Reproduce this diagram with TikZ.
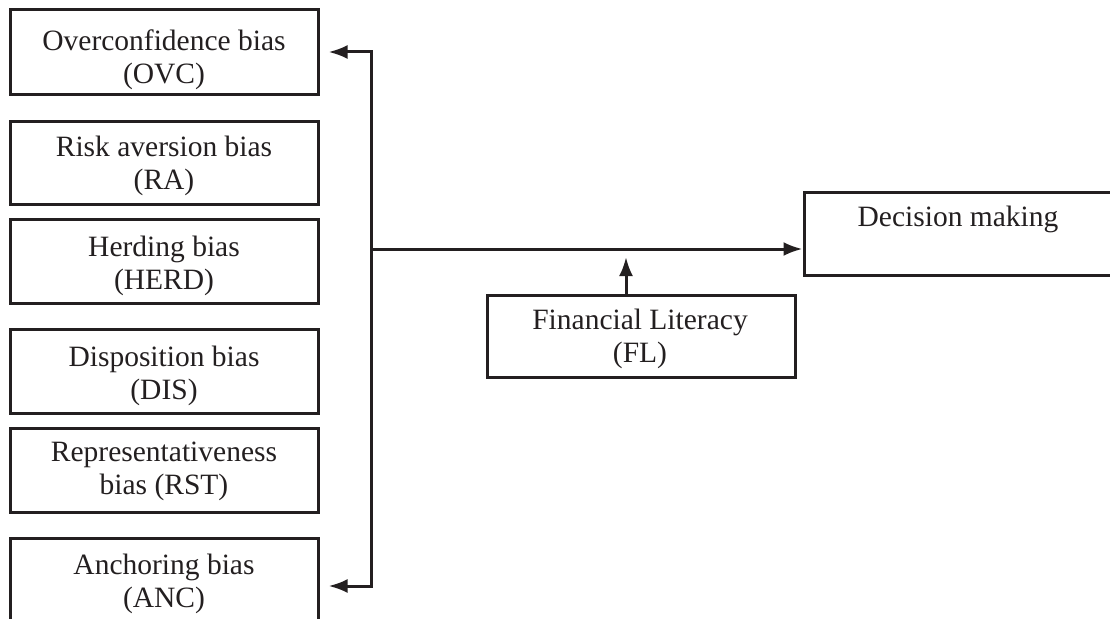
\documentclass[tikz,border=0pt]{standalone}
\usepackage{fontspec}
\setmainfont{Liberation Serif}
\usetikzlibrary{arrows.meta}
\definecolor{ink}{HTML}{231F20}
\begin{document}
\begin{tikzpicture}[x=1pt,y=-1pt,
  box/.style={draw=ink, line width=3pt, rectangle, inner sep=0pt, minimum width=308pt},
  lbl/.style={text=ink, align=center, inner sep=0pt, font=\fontsize{29.5}{33}\selectfont},
  conn/.style={draw=ink, line width=3pt},
  arr/.style={conn, -{Latex[length=19pt,width=14pt]}}]
\useasboundingbox (0,0) rectangle (1110,618);
\clip (0,0) rectangle (1110,618);
% left boxes
\node[box, minimum height=84pt] (ovc) at (164,52) {};
\node[box, minimum height=83pt] (ra) at (164,162.5) {};
\node[box, minimum height=84pt] (herd) at (164,261) {};
\node[box, minimum height=84pt] (dis) at (164,371) {};
\node[box, minimum height=84pt] (rst) at (164,470) {};
\node[box, minimum height=84pt] (anc) at (164,580) {};
\node[box, minimum height=82pt] (fl) at (641,336) {};
\node[box, minimum height=83pt, minimum width=316pt] (dm) at (962,233.5) {};
% labels
\node[lbl] (ovct) at (164,60) {Overconfidence bias\\(OVC)};
\node[lbl] (rat) at (164,165.5) {Risk aversion bias\\(RA)};
\node[lbl] (herdt) at (164,266) {Herding bias\\(HERD)};
\node[lbl] (dist) at (164,375.5) {Disposition bias\\(DIS)};
\node[lbl] (rstt) at (164,471.5) {Representativeness\\bias (RST)};
\node[lbl] (anct) at (164,583.5) {Anchoring bias\\(ANC)};
\node[lbl] (flt) at (640,339) {Financial Literacy\\(FL)};
\node[lbl] (dmt) at (958,219) {Decision making};
% connectors
\coordinate (jn) at (371,249);
\draw[arr, shorten >=9pt] (jn) |- (ovc.east);
\draw[arr, shorten >=9pt] (jn) |- ([yshift=-6pt]anc.east);
\draw[arr] (jn) -- (jn -| dm.west);
\draw[arr, shorten >=8pt] (fl.north -| 626,0) -- (626,249);
\end{tikzpicture}
\end{document}
